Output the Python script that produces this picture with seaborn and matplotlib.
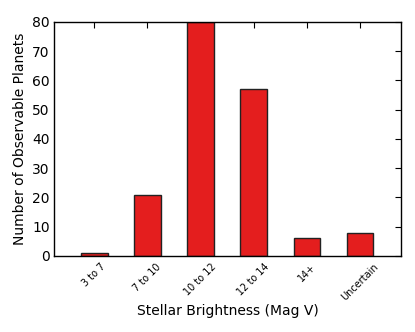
import numpy as np
import pandas as pd
import matplotlib
matplotlib.use('Agg')
import matplotlib.pyplot as plt
import seaborn as sns

# data
brightness = ['3 to 7', '7 to 10', '10 to 12', '12 to 14', '14+', 'Uncertain']
planets = [1, 21, 80, 57, 6, 8]

df = pd.DataFrame({'Brightness': brightness, 'Planets': planets})

sns.set_style('white')
plt.rcParams['font.family'] = ['DejaVu Sans']
plt.rcParams['text.color'] = 'black'
plt.rcParams['axes.labelcolor'] = 'black'
plt.rcParams['xtick.color'] = 'black'
plt.rcParams['ytick.color'] = 'black'

fig = plt.figure(figsize=(4.15, 3.32), dpi=100)
ax = fig.add_axes([0.130, 0.229, 0.836, 0.705])

sns.barplot(data=df, x='Brightness', y='Planets', color='#e41e1e', saturation=1,
            width=0.5, edgecolor='#222222', linewidth=1.0, ax=ax)

ax.set_xlim(-0.76, 5.77)
ax.set_ylim(0, 80)
ax.set_yticks(np.arange(0, 81, 10))
ax.tick_params(axis='both', direction='in', top=True, right=True, length=4,
               width=0.8, color='black', labelcolor='black')
ax.tick_params(axis='y', labelsize=10, pad=3)
ax.tick_params(axis='x', labelsize=7, pad=4)
plt.setp(ax.get_xticklabels(), rotation=45, ha='center', va='top')
for s in ax.spines.values():
    s.set_visible(True)
    s.set_color('black')
    s.set_linewidth(1.0)
ax.set_xlabel('Stellar Brightness (Mag V)', fontsize=10, labelpad=1)
ax.set_ylabel('Number of Observable Planets', fontsize=10, labelpad=4)

fig.savefig('out.png', dpi=100)
